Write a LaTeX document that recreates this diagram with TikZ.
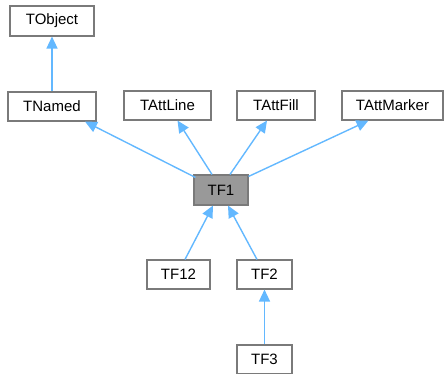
\documentclass[tikz,border=0pt]{standalone}
\usepackage{fontspec}
\setmainfont{Liberation Sans}
\usetikzlibrary{arrows.meta}
\definecolor{edgeblue}{HTML}{63B8FF}
\definecolor{boxline}{HTML}{7A7A7A}
\definecolor{curfill}{HTML}{999999}
\tikzset{
  cls/.style={draw=boxline, line width=1.1pt, fill=white, inner sep=0pt,
    minimum height=29pt, font=\fontsize{15}{18}\selectfont, text=black},
  cur/.style={cls, fill=curfill},
  inh/.style={draw=edgeblue, line width=1.4pt,
    -{Triangle[length=12pt,width=11pt,fill=edgeblue]}}
}
\begin{document}
\begin{tikzpicture}[x=1pt,y=-1pt]
\useasboundingbox (0,0) rectangle (445,373);
% class boxes
\node[cls, minimum width=84pt, minimum height=30pt] (tobject) at (52,21) {TObject};
\node[cls, minimum width=88pt] (tnamed) at (52,106.5) {TNamed};
\node[cls, minimum width=87pt] (tattline) at (167.5,105.5) {TAttLine};
\node[cls, minimum width=78pt] (tattfill) at (276,105.5) {TAttFill};
\node[cls, minimum width=101pt] (tattmarker) at (392.5,105.5) {TAttMarker};
\node[cur, minimum width=54pt, minimum height=30pt] (tf1) at (221,190) {TF1};
\node[cls, minimum width=63pt] (tf12) at (178.5,274.5) {TF12};
\node[cls, minimum width=55pt] (tf2) at (264.5,274.5) {TF2};
\node[cls, minimum width=55pt] (tf3) at (264.5,359.5) {TF3};
% inheritance edges (arrow points to the base class)
\draw[inh] (tnamed.north) -- (tobject.south);
\draw[inh] ([xshift=2pt,yshift=-3pt]tf1.north west) -- ([xshift=33pt]tnamed.south);
\draw[inh] ([xshift=-9pt]tf1.north) -- ([xshift=10pt]tattline.south);
\draw[inh] ([xshift=9pt]tf1.north) -- ([xshift=-9pt]tattfill.south);
\draw[inh] ([yshift=-2pt]tf1.north east) -- ([xshift=-24pt]tattmarker.south);
\draw[inh] ([xshift=6.5pt]tf12.north) -- ([xshift=-8pt]tf1.south);
\draw[inh] ([xshift=-7.5pt]tf2.north) -- ([xshift=7pt]tf1.south);
\draw[inh] (tf3.north) -- (tf2.south);
\end{tikzpicture}
\end{document}
